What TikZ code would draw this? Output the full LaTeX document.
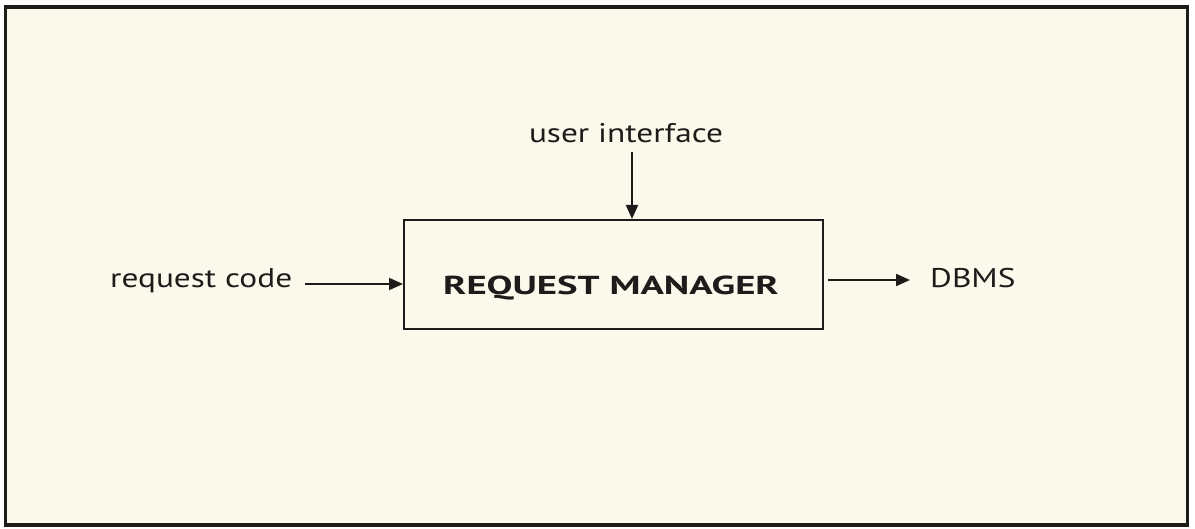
\documentclass[tikz,border=0pt]{standalone}
\usepackage{fontspec}
\setmainfont{PT Sans}
\newfontfamily\lblfont[FakeStretch=1.235]{PT Sans}
\newfontfamily\titlefont[FakeStretch=1.49]{PT Sans Bold}
\usetikzlibrary{arrows.meta}
\definecolor{cream}{RGB}{251,249,236}
\definecolor{ink}{RGB}{30,28,26}
\tikzset{
  conn/.style={draw=ink, line width=2pt, -{Triangle[length=14pt,width=12pt]}},
  lbl/.style={text=ink, font=\lblfont\fontsize{27}{32}\selectfont, inner sep=0pt},
  mgr/.style={draw=ink, line width=2pt, minimum width=419pt, minimum height=109pt, inner sep=0pt}
}
\begin{document}
\begin{tikzpicture}[x=1pt,y=-1pt]
  \useasboundingbox (0,0) rectangle (1195,529);
  \fill[white] (0,0) rectangle (1195,529);
  \draw[ink, fill=cream, line width=3.5pt] (5.5,7) rectangle (1187.5,525);
  \node[mgr] (rm) at (613.5,274.5) {};
  \node[lbl, font=\titlefont\fontsize{26}{31}\selectfont, anchor=base] (rmt) at (611,295) {REQUEST MANAGER};
  \node[lbl, anchor=base] (ui) at (626,143) {user interface};
  \node[lbl, anchor=base west] (rc) at (110,288) {request code};
  \node[lbl, anchor=base west] (db) at (930,288) {DBMS};
  \coordinate (uiS) at (632,152);
  \coordinate (rcE) at (305,284);
  \coordinate (dbS) at (828,280);
  \coordinate (dbW) at (910,280);
  \draw[conn] (uiS) -- (uiS |- rm.north);
  \draw[conn] (rcE) -- (rcE -| rm.west);
  \draw[conn] (dbS) -- (dbW);
\end{tikzpicture}
\end{document}
